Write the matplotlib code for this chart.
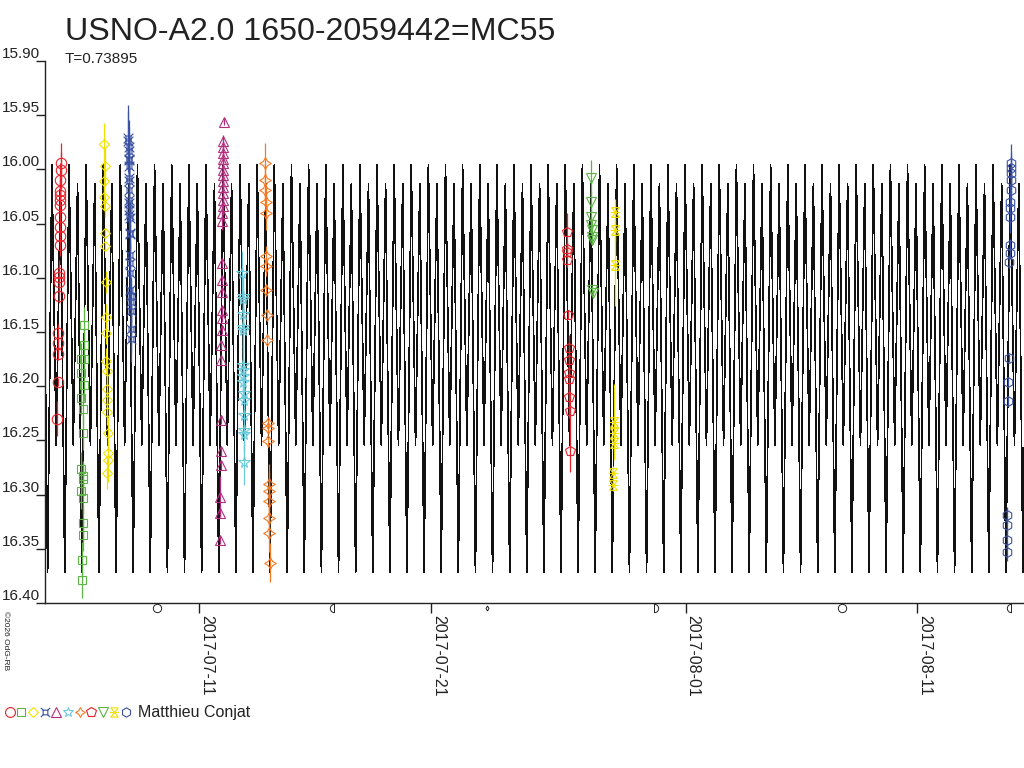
import numpy as np
import matplotlib
matplotlib.use("Agg")
import matplotlib.pyplot as plt
import matplotlib.dates as mdates
from matplotlib.path import Path
from matplotlib.lines import Line2D
from matplotlib.legend_handler import HandlerTuple
import matplotlib.transforms as mtransforms

plt.rcParams['font.family'] = ['Liberation Sans', 'DejaVu Sans']

# ---------------- data ----------------
title = "USNO-A2.0 1650-2059442=MC55"
period_text = "T=0.73895"
observer = "Matthieu Conjat"
copyright_text = "\u00a92026 OdG-RB"

base_date = "2017-07-11"          # day offsets below are relative to this date (UT)
period = 0.73895                   # days
epoch_min = 22.269                 # a primary minimum, days after base_date
x_start, x_end = -6.663, 35.612    # plotted time range (days after base_date)

# light-curve template (phase from primary minimum -> magnitude)
lc_phase = [0.00, 0.25, 0.50, 0.75]
lc_mag = [16.372, 15.996, 16.254, 16.013]

# series 1: red circles
s1_t = [-5.99, -5.99, -6.00, -6.00, -6.00, -6.01, -6.01, -6.02, -6.02, -6.03,
        -6.03, -6.05, -6.05, -6.06, -6.07, -6.09, -6.09, -6.10, -6.11, -6.13]
s1_m = [15.994, 16.001, 16.010, 16.020, 16.024, 16.028, 16.033, 16.044, 16.053, 16.061,
        16.070, 16.096, 16.099, 16.104, 16.117, 16.151, 16.160, 16.170, 16.196, 16.230]
s1_e = [0.018, 0.017, 0.016, 0.015, 0.015, 0.015, 0.015, 0.014, 0.012, 0.010,
        0.010, 0.012, 0.012, 0.012, 0.006, 0.008, 0.008, 0.006, 0.004, 0.016]

# series 2: green squares
s2_t = [-4.979, -4.979, -4.979, -5.121, -5.121, -4.979, -5.121, -5.035, -5.035,
        -5.121, -5.035, -5.035, -5.121, -5.035, -5.035, -5.035, -5.078, -5.078]
s2_m = [16.144, 16.162, 16.175, 16.175, 16.188, 16.199, 16.211, 16.221, 16.243,
        16.276, 16.283, 16.286, 16.297, 16.303, 16.326, 16.337, 16.360, 16.379]
s2_e = [0.017, 0.015, 0.014, 0.015, 0.014, 0.015, 0.016, 0.015, 0.016,
        0.015, 0.014, 0.015, 0.016, 0.015, 0.014, 0.015, 0.016, 0.016]

# series 3: yellow diamonds
s3_t = [-4.115, -4.072, -4.115, -4.115, -4.072, -4.072, -4.072, -4.029, -4.029, -4.029,
        -4.029, -3.986, -3.986, -3.986, -3.986, -3.942, -3.942, -3.942, -3.986]
s3_m = [15.977, 15.997, 16.011, 16.025, 16.034, 16.059, 16.071, 16.104, 16.136, 16.151,
        16.177, 16.186, 16.203, 16.213, 16.224, 16.243, 16.262, 16.268, 16.280]
s3_e = [0.020, 0.018, 0.015, 0.012, 0.010, 0.005, 0.004, 0.010, 0.012, 0.010,
        0.012, 0.012, 0.012, 0.012, 0.012, 0.015, 0.018, 0.020, 0.015]

# series 4: blue crossed squares
s4_t = [-3.060, -3.060, -3.055, -3.050, -3.050, -3.045, -3.040, -3.035, -3.030, -3.030,
        -3.025, -3.020, -3.020, -3.015, -3.010, -3.005, -3.000, -2.995, -2.990, -2.985,
        -2.975, -2.970, -2.965, -2.955, -2.945, -2.935]
s4_m = [15.971, 15.974, 15.979, 15.983, 15.990, 15.991, 15.997, 16.008, 16.011, 16.019,
        16.028, 16.031, 16.037, 16.042, 16.045, 16.059, 16.060, 16.079, 16.086, 16.096,
        16.111, 16.117, 16.122, 16.131, 16.147, 16.156]
s4_e = [0.030, 0.028, 0.025, 0.022, 0.020, 0.020, 0.018, 0.016, 0.015, 0.015,
        0.015, 0.015, 0.015, 0.015, 0.015, 0.015, 0.015, 0.018, 0.018, 0.018,
        0.018, 0.018, 0.020, 0.020, 0.022, 0.022]

# series 5: magenta triangles
s5_t = [1.050, 1.040, 1.040, 1.035, 1.030, 1.030, 1.025, 1.020, 1.020, 1.015,
        1.010, 1.010, 1.005, 1.000, 0.995, 0.985, 0.980, 0.975, 0.970, 0.965,
        0.960, 0.955, 0.950, 0.935, 0.925, 0.920, 0.910, 0.905, 0.895]
s5_m = [15.956, 15.974, 15.979, 15.985, 15.990, 15.994, 16.001, 16.005, 16.011, 16.016,
        16.022, 16.028, 16.034, 16.040, 16.048, 16.086, 16.102, 16.113, 16.130, 16.137,
        16.148, 16.162, 16.176, 16.231, 16.260, 16.273, 16.302, 16.317, 16.342]
s5_e = [0.003, 0.006, 0.008, 0.008, 0.008, 0.008, 0.008, 0.008, 0.008, 0.008,
        0.008, 0.008, 0.008, 0.008, 0.008, 0.004, 0.004, 0.004, 0.004, 0.004,
        0.004, 0.004, 0.004, 0.004, 0.004, 0.004, 0.019, 0.004, 0.004]

# series 6: cyan stars
s6_t = [1.865, 1.870, 1.875, 1.880, 1.885, 1.885, 1.895, 1.900, 1.900, 1.905,
        1.910, 1.915, 1.920, 1.925, 1.925, 1.935]
s6_m = [16.096, 16.117, 16.120, 16.133, 16.145, 16.148, 16.180, 16.185, 16.191, 16.196,
        16.206, 16.213, 16.227, 16.240, 16.244, 16.270]
s6_e = [0.021, 0.018, 0.018, 0.018, 0.020, 0.020, 0.018, 0.018, 0.018, 0.018,
        0.018, 0.018, 0.020, 0.020, 0.020, 0.021]

# series 7: orange four-point stars
s7_t = [2.840, 2.850, 2.855, 2.860, 2.865, 2.885, 2.890, 2.900, 2.910, 2.925,
        2.960, 2.965, 2.970, 2.990, 2.995, 3.000, 3.010, 3.020, 3.045]
s7_m = [15.994, 16.010, 16.019, 16.030, 16.040, 16.080, 16.089, 16.111, 16.134, 16.157,
        16.234, 16.239, 16.251, 16.290, 16.297, 16.306, 16.322, 16.335, 16.363]
s7_e = [0.018, 0.016, 0.016, 0.016, 0.016, 0.009, 0.009, 0.004, 0.004, 0.004,
        0.004, 0.004, 0.004, 0.018, 0.018, 0.018, 0.018, 0.018, 0.018]

# series 8: red pentagons
s8_t = [15.870, 15.880, 15.885, 15.890, 15.925, 15.945, 15.955, 15.965, 15.970, 15.980,
        15.990, 16.010]
s8_m = [16.058, 16.073, 16.076, 16.084, 16.134, 16.165, 16.176, 16.188, 16.193, 16.210,
        16.223, 16.260]
s8_e = [0.018, 0.006, 0.006, 0.006, 0.004, 0.012, 0.015, 0.018, 0.018, 0.019,
        0.019, 0.019]

# series 9: green down-triangles
s9_t = [16.910, 16.925, 16.930, 16.935, 16.940, 16.945, 16.950, 16.975, 16.980]
s9_m = [16.008, 16.030, 16.044, 16.051, 16.056, 16.062, 16.065, 16.111, 16.114]
s9_e = [0.017, 0.010, 0.008, 0.008, 0.008, 0.005, 0.005, 0.003, 0.003]

# series 10: yellow hourglasses
s10_t = [17.970, 17.960, 17.950, 17.900, 17.895, 17.890, 17.880, 17.875]
s10_m = [16.039, 16.056, 16.088, 16.233, 16.243, 16.252, 16.280, 16.291]
s10_e = [0.012, 0.010, 0.038, 0.035, 0.008, 0.008, 0.006, 0.006]

# series 11: dark blue hexagons
s11_t = [35.050, 35.045, 35.040, 35.035, 35.030, 35.020, 35.015, 35.010, 34.995, 34.990,
         34.985, 34.945, 34.935, 34.925, 34.885, 34.880, 34.870, 34.865]
s11_m = [15.994, 15.999, 16.003, 16.010, 16.019, 16.030, 16.036, 16.044, 16.070, 16.077,
         16.085, 16.174, 16.196, 16.214, 16.319, 16.328, 16.342, 16.353]
s11_e = [0.017, 0.015, 0.015, 0.015, 0.015, 0.015, 0.015, 0.015, 0.006, 0.006,
         0.006, 0.004, 0.004, 0.004, 0.008, 0.008, 0.008, 0.008]

# moon phases (days after base_date): kind, time
moon_kind = ["full", "last", "new", "first", "full", "last"]
moon_t = [-1.829, 5.810, 12.407, 19.641, 27.758, 35.052]

# axis ticks
x_tick_days = [0, 10, 21, 31]
x_tick_labels = ["2017-07-11", "2017-07-21", "2017-08-01", "2017-08-11"]
y_ticks = [15.90, 15.95, 16.00, 16.05, 16.10, 16.15, 16.20, 16.25, 16.30, 16.35, 16.40]

# ---------------- marker shapes ----------------
def crossed_square():
    v = [(-0.5, -0.5), (0.5, -0.5), (0.5, 0.5), (-0.5, 0.5), (-0.5, -0.5),
         (-0.5, -0.5), (-1.0, -1.0), (0.5, -0.5), (1.0, -1.0),
         (0.5, 0.5), (1.0, 1.0), (-0.5, 0.5), (-1.0, 1.0)]
    c = [Path.MOVETO, Path.LINETO, Path.LINETO, Path.LINETO, Path.LINETO,
         Path.MOVETO, Path.LINETO, Path.MOVETO, Path.LINETO,
         Path.MOVETO, Path.LINETO, Path.MOVETO, Path.LINETO]
    return Path(v, c)

def hourglass():
    v = [(-0.8, 1.0), (0.8, 1.0), (0.0, 0.0), (-0.8, 1.0),
         (-0.8, -1.0), (0.8, -1.0), (0.0, 0.0), (-0.8, -1.0),
         (-1.0, 0.0), (1.0, 0.0)]
    c = [Path.MOVETO, Path.LINETO, Path.LINETO, Path.LINETO,
         Path.MOVETO, Path.LINETO, Path.LINETO, Path.LINETO,
         Path.MOVETO, Path.LINETO]
    return Path(v, c)

def half_disc(right=True):
    th = np.linspace(-np.pi / 2, np.pi / 2, 25)
    xs = np.cos(th) if right else -np.cos(th)
    v = list(zip(xs, np.sin(th))) + [(0.0, -1.0)]
    c = [Path.MOVETO] + [Path.LINETO] * (len(v) - 1)
    return Path(v, c)

styles = [
    dict(marker="o", color="#e8232b", ms=7.5),
    dict(marker="s", color="#5cb544", ms=5.5),
    dict(marker="D", color="#f0e000", ms=5.5),
    dict(marker=crossed_square(), color="#3b52a4", ms=7),
    dict(marker="^", color="#b52e7e", ms=7.5),
    dict(marker="*", color="#6ccadb", ms=8.5),
    dict(marker=(4, 1, 0), color="#f47a25", ms=8.5),
    dict(marker="p", color="#e8232b", ms=7.5),
    dict(marker="v", color="#5cb544", ms=7.5),
    dict(marker=hourglass(), color="#f0e000", ms=7),
    dict(marker="h", color="#3b52a4", ms=7),
]
series = [(s1_t, s1_m, s1_e), (s2_t, s2_m, s2_e), (s3_t, s3_m, s3_e), (s4_t, s4_m, s4_e),
          (s5_t, s5_m, s5_e), (s6_t, s6_m, s6_e), (s7_t, s7_m, s7_e), (s8_t, s8_m, s8_e),
          (s9_t, s9_m, s9_e), (s10_t, s10_m, s10_e), (s11_t, s11_m, s11_e)]

# ---------------- figure ----------------
fig = plt.figure(figsize=(10.24, 7.68), dpi=100)
ax = fig.add_axes([45 / 1024, 1 - 603 / 768, (1024 - 45) / 1024, (603 - 61) / 768])

t0 = mdates.date2num(np.datetime64(base_date))

# model light curve: template extrema repeated every period
n_first = int(np.floor((x_start - epoch_min) / period)) - 1
n_last = int(np.ceil((x_end - epoch_min) / period)) + 1
cyc = np.arange(n_first, n_last + 1)
tt = (epoch_min + (cyc[:, None] + np.asarray(lc_phase)[None, :]) * period).ravel()
mm = np.tile(lc_mag, len(cyc))
ax.plot(t0 + tt, mm, color="#111111", lw=0.5, antialiased=False, zorder=1)

# observations
for (t, m, e), st in zip(series, styles):
    t = t0 + np.asarray(t)
    ax.errorbar(t, m, yerr=e, fmt="none", ecolor=st["color"], elinewidth=0.9, capsize=0, zorder=2)
    ax.plot(t, m, ls="none", marker=st["marker"], ms=st["ms"], mfc="none",
            mec=st["color"], mew=0.8, zorder=3)

# moon phases just below the time axis
trans = mtransforms.blended_transform_factory(ax.transData, ax.transAxes)
for kind, t in zip(moon_kind, moon_t):
    if kind == "full":
        mk, ms = "o", 6
    elif kind == "new":
        mk, ms = "d", 2.5
    elif kind == "first":
        mk, ms = half_disc(True), 6
    else:
        mk, ms = half_disc(False), 6
    ax.plot([t0 + t], [-0.0095], transform=trans, ls="none", marker=mk, ms=ms,
            mfc="none", mec="#222222", mew=0.7, clip_on=False)

ax.set_xlim(t0 + x_start, t0 + x_end)
ax.set_ylim(y_ticks[-1], y_ticks[0])

for s in ["top", "right"]:
    ax.spines[s].set_visible(False)
for s in ["left", "bottom"]:
    ax.spines[s].set_linewidth(1.0)
    ax.spines[s].set_color("#222222")

ax.set_yticks(y_ticks, [f"{v:.2f}" for v in y_ticks])
ax.tick_params(axis="y", direction="out", length=6.5, width=1.0, pad=-3.2,
               labelsize=11, colors="#222222")
for lab in ax.get_yticklabels():
    lab.set_verticalalignment("bottom")

ax.set_xticks([t0 + d for d in x_tick_days], x_tick_labels)
ax.tick_params(axis="x", direction="out", length=7.2, width=1.0, pad=1.2,
               labelsize=11.5, colors="#222222")
for lab in ax.get_xticklabels():
    lab.set_rotation(-90)
    lab.set_horizontalalignment("left")
    lab.set_verticalalignment("top")

# texts
fig.text(65 / 1024, 1 - 40 / 768, title, fontsize=23.1, color="#222222", va="baseline", ha="left")
fig.text(65 / 1024, 1 - 63 / 768, period_text, fontsize=11, color="#222222", va="baseline", ha="left")
fig.text(2 / 1024, 1 - 611 / 768, copyright_text, fontsize=6, rotation=-90,
         va="top", ha="left", color="#222222")

# legend: all symbols then observer name
handles = tuple(Line2D([], [], ls="none", marker=st["marker"], ms=min(st["ms"], 7.5) * 0.95,
                       mfc="none", mec=st["color"], mew=0.8) for st in styles)
fig.legend([handles], [observer], handler_map={tuple: HandlerTuple(ndivide=None, pad=0.0)},
           loc="center left", bbox_to_anchor=(4 / 1024, 1 - 713 / 768), frameon=False,
           handlelength=8.0, handletextpad=0.4, borderpad=0.0, borderaxespad=0.0,
           fontsize=11.5, labelcolor="#222222")

fig.savefig("out.png", dpi=100)
